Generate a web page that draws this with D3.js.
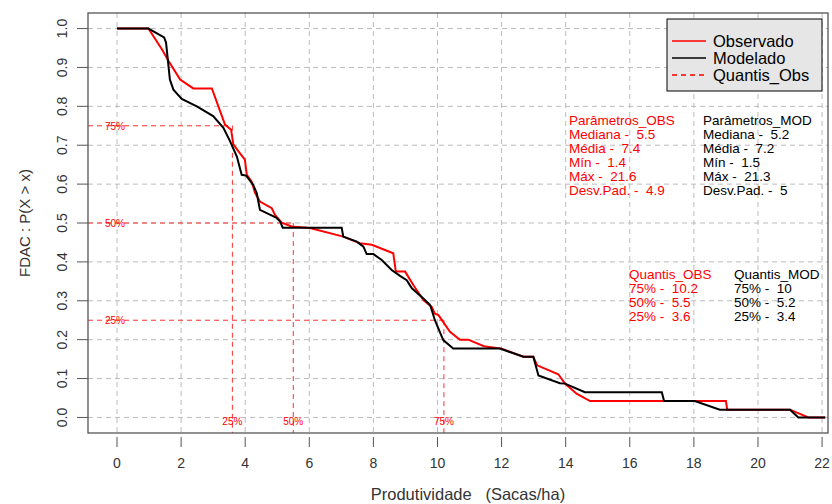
<!DOCTYPE html>
<html>
<head>
<meta charset="utf-8">
<script src="https://cdn.jsdelivr.net/npm/d3@7/dist/d3.min.js"></script>
<style>
  body { margin: 0; background: #fff; }
  text { font-family: "Liberation Sans", Arial, sans-serif; }
</style>
</head>
<body>
<svg id="viz" width="832" height="504"></svg>
<script>
// curves (x = sacas/ha, y = P(X > x))
const obsX = [0, 0.98, 1.4, 1.6, 1.97, 2.38, 2.96, 3.37, 3.56, 3.63, 3.79, 3.99, 4.05, 4.2, 4.31, 4.46, 4.83, 4.93, 5.14, 5.45, 6.02, 7.06, 7.58, 7.95, 8.62, 8.7, 8.99, 9.25, 9.56, 9.82, 9.92, 10.03, 10.39, 10.7, 10.96, 11.45, 12.0, 12.68, 12.99, 13.11, 13.77, 13.98, 14.34, 14.76, 19.0, 19.04, 21.0, 21.57, 22.1]
const obsY = [1, 1, 0.947, 0.918, 0.869, 0.846, 0.846, 0.753, 0.74, 0.702, 0.684, 0.663, 0.624, 0.607, 0.577, 0.555, 0.538, 0.521, 0.501, 0.491, 0.487, 0.465, 0.448, 0.444, 0.422, 0.375, 0.375, 0.34, 0.302, 0.284, 0.267, 0.263, 0.22, 0.2, 0.2, 0.183, 0.177, 0.156, 0.156, 0.134, 0.111, 0.087, 0.061, 0.042, 0.042, 0.02, 0.02, 0, 0]

const modX = [0, 0.98, 1.47, 1.53, 1.65, 1.76, 2.02, 2.49, 3.0, 3.32, 3.53, 3.74, 3.89, 4.03, 4.25, 4.36, 4.46, 4.98, 5.09, 5.17, 7.01, 7.06, 7.48, 7.69, 7.79, 8.0, 8.26, 8.57, 8.83, 9.04, 9.2, 9.56, 9.77, 9.92, 10.18, 10.49, 11.95, 12.68, 12.99, 13.15, 13.82, 13.98, 14.6, 17.0, 17.07, 18.03, 18.81, 21.0, 21.26, 22.1]
const modY = [1, 1, 0.977, 0.964, 0.869, 0.843, 0.819, 0.8, 0.775, 0.745, 0.71, 0.671, 0.624, 0.622, 0.598, 0.577, 0.534, 0.513, 0.504, 0.488, 0.488, 0.465, 0.452, 0.439, 0.42, 0.42, 0.405, 0.379, 0.364, 0.353, 0.332, 0.306, 0.289, 0.25, 0.199, 0.177, 0.177, 0.156, 0.156, 0.108, 0.088, 0.087, 0.065, 0.065, 0.042, 0.042, 0.02, 0.02, 0, 0]

const xTicks = [0, 2, 4, 6, 8, 10, 12, 14, 16, 18, 20, 22]
const yTicks = [0, 0.1, 0.2, 0.3, 0.4, 0.5, 0.6, 0.7, 0.8, 0.9, 1.0]

// observed quantiles
const quantProb = [0.75, 0.5, 0.25]
const quantObs = [3.6, 5.5, 10.2]
const quantLeftLabels = ['75%', '50%', '25%']
const quantBottomLabels = ['25%', '50%', '75%']

const paramObs = ['Parâmetros_OBS', 'Mediana -  5.5', 'Média -  7.4', 'Mín -  1.4', 'Máx -  21.6', 'Desv.Pad. -  4.9']
const paramMod = ['Parâmetros_MOD', 'Mediana -  5.2', 'Média -  7.2', 'Mín -  1.5', 'Máx -  21.3', 'Desv.Pad. -  5']
const quantObsText = ['Quantis_OBS', '75% -  10.2', '50% -  5.5', '25% -  3.6']
const quantModText = ['Quantis_MOD', '75% -  10', '50% -  5.2', '25% -  3.4']

const legendNames = ['Observado', 'Modelado', 'Quantis_Obs']
const legendColors = ['#ff0000', '#000000', '#ff0000']
const legendDash = [null, null, '5,4']

// keep the double spaces of the R paste() output
const nb = s => s.replace(/ /g, '\u00A0')

const svg = d3.select('#viz')
const pLeft = 88, pRight = 828, pTop = 13, pBottom = 433

const x = d3.scaleLinear().domain([-0.905, 22.185]).range([pLeft, pRight])
const y = d3.scaleLinear().domain([-0.04, 1.04]).range([pBottom, pTop])

svg.append('defs').append('clipPath').attr('id', 'plotclip')
  .append('rect').attr('x', pLeft).attr('y', pTop)
  .attr('width', pRight - pLeft).attr('height', pBottom - pTop)

// grid
let grid = svg.append('g')
grid.selectAll('.vg').data(xTicks).enter().append('line')
  .attr('x1', d => x(d)).attr('x2', d => x(d))
  .attr('y1', pTop).attr('y2', pBottom)
  .style('stroke', '#bbbbbb').style('stroke-dasharray', '5,4')
grid.selectAll('.hg').data(yTicks).enter().append('line')
  .attr('x1', pLeft).attr('x2', pRight)
  .attr('y1', d => y(d)).attr('y2', d => y(d))
  .style('stroke', '#bbbbbb').style('stroke-dasharray', '5,4')

// quantile guides
let qGroup = svg.append('g').attr('clip-path', 'url(#plotclip)')
qGroup.selectAll('.qh').data(quantObs).enter().append('line')
  .attr('x1', pLeft).attr('x2', d => x(d))
  .attr('y1', (d, i) => y(quantProb[i])).attr('y2', (d, i) => y(quantProb[i]))
  .style('stroke', '#ff3030').style('stroke-dasharray', '5,4')
qGroup.selectAll('.qv').data(quantObs).enter().append('line')
  .attr('x1', d => x(d)).attr('x2', d => x(d))
  .attr('y1', (d, i) => y(quantProb[i])).attr('y2', pBottom)
  .style('stroke', '#ff3030').style('stroke-dasharray', '5,4')

qGroup.selectAll('.ql').data(quantLeftLabels).enter().append('text')
  .attr('x', x(0) - 2).attr('y', (d, i) => y(quantProb[i]) + 4)
  .attr('text-anchor', 'middle').style('font-size', '10px').style('fill', '#ff0000')
  .text(d => d)
qGroup.selectAll('.qb').data(quantBottomLabels).enter().append('text')
  .attr('x', (d, i) => x(quantObs[i])).attr('y', y(0) + 8)
  .attr('text-anchor', 'middle').style('font-size', '10px').style('fill', '#ff0000')
  .text(d => d)

// curves
let line = d3.line().x(d => x(d[0])).y(d => y(d[1]))
let curves = svg.append('g').attr('clip-path', 'url(#plotclip)')
curves.append('path').datum(obsX.map((v, i) => [v, obsY[i]]))
  .attr('d', line).style('fill', 'none').style('stroke', '#ff0000').style('stroke-width', 2)
curves.append('path').datum(modX.map((v, i) => [v, modY[i]]))
  .attr('d', line).style('fill', 'none').style('stroke', '#000000').style('stroke-width', 2)

// box
svg.append('rect').attr('x', pLeft).attr('y', pTop)
  .attr('width', pRight - pLeft).attr('height', pBottom - pTop)
  .style('fill', 'none').style('stroke', '#555').style('stroke-width', 1.3)

// axes
let xAxis = svg.append('g')
xAxis.selectAll('.xt').data(xTicks).enter().append('line')
  .attr('x1', d => x(d)).attr('x2', d => x(d))
  .attr('y1', pBottom + 4).attr('y2', pBottom + 14)
  .style('stroke', '#555')
xAxis.selectAll('.xl').data(xTicks).enter().append('text')
  .attr('x', d => x(d)).attr('y', 468)
  .attr('text-anchor', 'middle').style('font-size', '14px').style('fill', '#333')
  .text(d => d)

let yAxis = svg.append('g')
yAxis.selectAll('.yt').data(yTicks).enter().append('line')
  .attr('x1', pLeft - 11).attr('x2', pLeft)
  .attr('y1', d => y(d)).attr('y2', d => y(d))
  .style('stroke', '#555')
yAxis.selectAll('.yl').data(yTicks).enter().append('text')
  .attr('transform', d => 'translate(67,' + y(d) + ') rotate(-90)')
  .attr('text-anchor', 'middle').style('font-size', '14px').style('fill', '#333')
  .text(d => d3.format('.1f')(d))

svg.append('text').attr('x', 468).attr('y', 500)
  .attr('text-anchor', 'middle').style('font-size', '16.5px').style('fill', '#333')
  .text(nb('Produtividade   (Sacas/ha)'))
svg.append('text').attr('transform', 'translate(30,' + (pTop + pBottom) / 2 + ') rotate(-90)')
  .attr('text-anchor', 'middle').style('font-size', '15px').style('fill', '#333')
  .text(nb('FDAC : P(X > x)'))

// stats text
let stats = svg.append('g').style('font-size', '13.5px')
stats.selectAll('.po').data(paramObs).enter().append('text')
  .attr('x', 569).attr('y', (d, i) => 125 + i * 14)
  .style('fill', '#ff0000').text(d => nb(d))
stats.selectAll('.pm').data(paramMod).enter().append('text')
  .attr('x', 703).attr('y', (d, i) => 125 + i * 14)
  .style('fill', '#000').text(d => nb(d))
stats.selectAll('.qo').data(quantObsText).enter().append('text')
  .attr('x', 629).attr('y', (d, i) => 279 + i * 14)
  .style('fill', '#ff0000').text(d => nb(d))
stats.selectAll('.qm').data(quantModText).enter().append('text')
  .attr('x', 734).attr('y', (d, i) => 279 + i * 14)
  .style('fill', '#000').text(d => nb(d))

// legend
let legend = svg.append('g')
legend.append('rect').attr('x', 667).attr('y', 19).attr('width', 155).attr('height', 72)
  .style('fill', '#e6e6e6').style('stroke', '#000').style('stroke-width', 1)
legend.selectAll('.ll').data(legendNames).enter().append('line')
  .attr('x1', 672).attr('x2', 706)
  .attr('y1', (d, i) => 41 + i * 17).attr('y2', (d, i) => 41 + i * 17)
  .style('stroke', (d, i) => legendColors[i])
  .style('stroke-dasharray', (d, i) => legendDash[i])
  .style('stroke-width', 1.3)
legend.selectAll('.lt').data(legendNames).enter().append('text')
  .attr('x', 713).attr('y', (d, i) => 47 + i * 17)
  .style('font-size', '16.5px').style('fill', '#000')
  .text(d => d)
</script>
</body>
</html>
